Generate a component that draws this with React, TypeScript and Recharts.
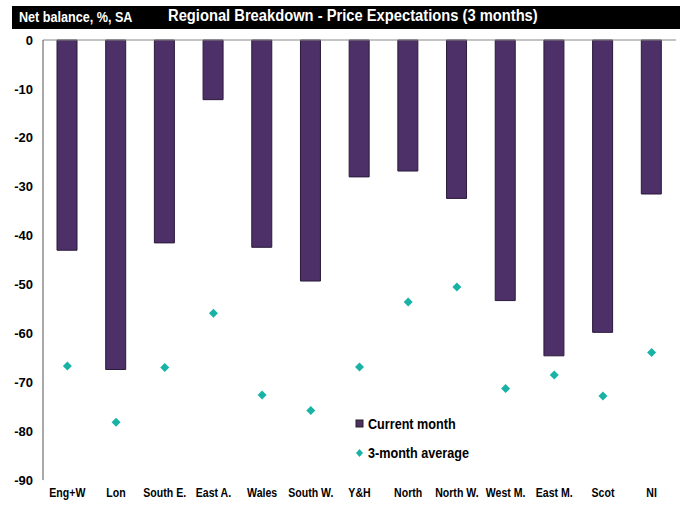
import React from "react";
import {
  ComposedChart, Bar, Scatter, XAxis, YAxis, ReferenceLine, Legend,
} from "recharts";

const regions = [
  "Eng+W", "Lon", "South E.", "East A.", "Wales", "South W.", "Y&H",
  "North", "North W.", "West M.", "East M.", "Scot", "NI",
];
const currentMonth = [-43.0, -67.4, -41.5, -12.2, -42.4, -49.3, -28.0, -26.8, -32.4, -53.3, -64.6, -59.8, -31.5];
const threeMonthAvg = [-66.7, -78.2, -67.0, -55.9, -72.6, -75.8, -66.9, -53.6, -50.5, -71.3, -68.5, -72.8, -63.9];
const yTicks = [0, -10, -20, -30, -40, -50, -60, -70, -80, -90];

const data = regions.map((r, i) => ({ region: r, current: currentMonth[i], avg: threeMonthAvg[i] }));

const PURPLE = "#4C3067";
const TEAL = "#19B3A6";
const FONT = "'Liberation Sans', Arial, sans-serif";

function Diamond(props: any) {
  const { cx, cy } = props;
  if (cx == null || cy == null) return null;
  const r = 4.5;
  return <path d={`M${cx},${cy - r}L${cx + r},${cy}L${cx},${cy + r}L${cx - r},${cy}Z`} fill={TEAL} />;
}

// squeezed label to mimic the narrow bold face of the original
function XTick({ x, y, payload }: any) {
  return (
    <text
      transform={`translate(${x},${y}) scale(0.88,1)`}
      textAnchor="middle"
      dy="0.71em"
      fill="#000"
      fontSize={12}
      fontWeight={700}
      fontFamily={FONT}
    >
      {payload.value}
    </text>
  );
}

function LegendBox({ payload }: any) {
  const items = [...(payload || [])].sort((a: any) => (a.dataKey === "current" ? -1 : 1));
  return (
    <div style={{ fontFamily: FONT, fontWeight: 700, fontSize: 14.5, color: "#000" }}>
      {items.map((p: any) => (
        <div key={p.value} style={{ display: "flex", alignItems: "center", height: 29 }}>
          <svg width={10} height={10} style={{ marginRight: 3 }}>
            {p.dataKey === "current"
              ? <rect x={1} y={1} width={7} height={7} fill={PURPLE} stroke="#222" strokeWidth={1} />
              : <path d="M4.5,1L8,5L4.5,9L1,5Z" fill={TEAL} />}
          </svg>
          <span style={{ display: "inline-block", transform: "scaleX(0.87)", transformOrigin: "left center" }}>
            {p.value}
          </span>
        </div>
      ))}
    </div>
  );
}

const squeeze = (s: number): React.CSSProperties => ({
  display: "inline-block", transform: `scaleX(${s})`, transformOrigin: "left center",
});

export default function App() {
  return (
    <div style={{ position: "absolute", left: 0, top: 0, width: 685, height: 506, background: "#fff" }}>
      <div style={{
        position: "absolute", left: 12, top: 6, width: 668, height: 23, background: "#000",
        color: "#fff", fontFamily: FONT, fontWeight: 700, whiteSpace: "nowrap",
      }}>
        <span style={{ position: "absolute", left: 7, top: 3, fontSize: 14, ...squeeze(0.9) }}>
          Net balance, %, SA
        </span>
        <span style={{ position: "absolute", left: 156, top: 1, fontSize: 16, ...squeeze(0.92) }}>
          Regional Breakdown - Price Expectations (3 months)
        </span>
      </div>
      <ComposedChart
        width={685}
        height={506}
        data={data}
        margin={{ top: 40, right: 9, bottom: 0, left: 0 }}
      >
        <XAxis
          dataKey="region"
          axisLine={false}
          tickLine={false}
          height={26}
          interval={0}
          tick={<XTick />}
          tickSize={0}
          tickMargin={8}
        />
        <YAxis
          domain={[-90, 0]}
          ticks={yTicks}
          interval={0}
          width={43}
          axisLine={{ stroke: "#555" }}
          tickLine={false}
          tickSize={0}
          tickMargin={10}
          tick={{ fill: "#000", fontSize: 13, fontWeight: 700, fontFamily: FONT }}
        />
        <ReferenceLine y={0} stroke="#888" strokeWidth={1} />
        <Bar
          dataKey="current"
          name="Current month"
          fill={PURPLE}
          stroke="#2A1A3A"
          strokeWidth={1}
          barSize={20}
          isAnimationActive={false}
        />
        <Scatter
          dataKey="avg"
          name="3-month average"
          fill={TEAL}
          shape={<Diamond />}
          isAnimationActive={false}
        />
        <Legend
          layout="vertical"
          verticalAlign="middle"
          align="center"
          content={<LegendBox />}
          wrapperStyle={{ left: 355, top: 409, width: 160 }}
        />
      </ComposedChart>
    </div>
  );
}
